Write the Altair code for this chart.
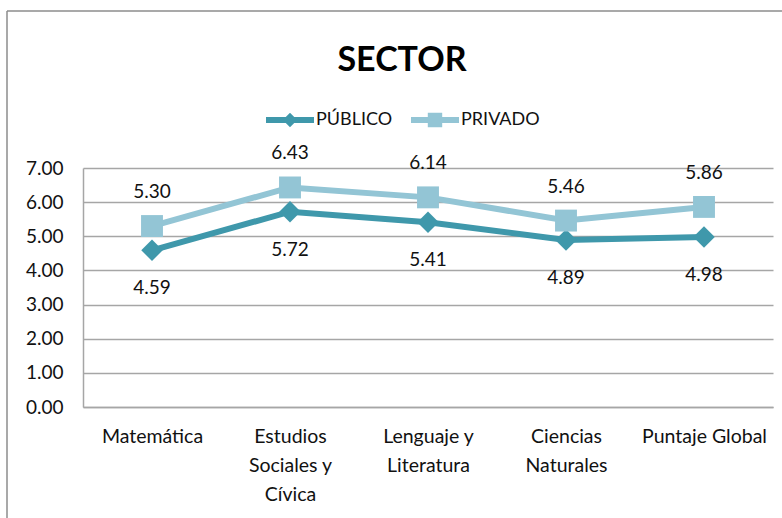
import json
import altair as alt
import pandas as pd

categories = ["Matemática", "Estudios Sociales y Cívica", "Lenguaje y Literatura",
              "Ciencias Naturales", "Puntaje Global"]
category_lines = [["Matemática"], ["Estudios", "Sociales y", "Cívica"],
                  ["Lenguaje y", "Literatura"], ["Ciencias", "Naturales"], ["Puntaje Global"]]
publico = [4.59, 5.72, 5.41, 4.89, 4.98]
privado = [5.30, 6.43, 6.14, 5.46, 5.86]
series_names = ["PÚBLICO", "PRIVADO"]
y_ticks = [0, 1, 2, 3, 4, 5, 6, 7]

rows = []
for c, a, b in zip(categories, publico, privado):
    rows.append({"categoria": c, "serie": "PÚBLICO", "valor": a})
    rows.append({"categoria": c, "serie": "PRIVADO", "valor": b})
df = pd.DataFrame(rows)

DARK = "#3F98AB"
LIGHT = "#93C5D5"
FONT = "Lato"
TXT = "#111111"
GRID = "#A6A6A6"

label_expr = ""
for c, lines in zip(categories, category_lines):
    label_expr += f"datum.value == {json.dumps(c)} ? {json.dumps(lines)} : "
label_expr += "datum.value"

x_enc = alt.X("categoria:N", sort=categories,
              scale=alt.Scale(type="point", padding=0.5),
              axis=alt.Axis(title=None, labelAngle=0, labelFontSize=19.5, labelFont=FONT,
                            labelColor=TXT, labelLineHeight=29, labelPadding=20,
                            labelBaseline="top", ticks=False, grid=False,
                            domainColor=GRID, domainWidth=1.5, labelExpr=label_expr))
y_enc = alt.Y("valor:Q", scale=alt.Scale(domain=[0, 7], nice=False),
              axis=alt.Axis(title=None, values=y_ticks, format=".2f", labelFontSize=19,
                            labelFont=FONT, labelColor=TXT, labelPadding=20, ticks=False,
                            grid=True, gridColor=GRID, gridWidth=1.5,
                            domainColor=GRID, domainWidth=1.5))
color_scale = alt.Scale(domain=series_names, range=[DARK, LIGHT])

base = alt.Chart(df)

def series_layers(name, shape, size, dy):
    sub = base.transform_filter(alt.datum.serie == name)
    line = sub.mark_line(strokeWidth=6).encode(
        x=x_enc, y=y_enc,
        color=alt.Color("serie:N", scale=color_scale, legend=None))
    pts = sub.mark_point(shape=shape, filled=True, opacity=1, size=size).encode(
        x=x_enc, y=y_enc,
        color=alt.Color("serie:N", scale=color_scale, legend=None))
    txt = sub.mark_text(fontSize=19, font=FONT, color=TXT, dy=dy).encode(
        x=x_enc, y=y_enc, text=alt.Text("valor:Q", format=".2f"))
    return [line, pts, txt]

path_pub = "M-1,-0.12L1,-0.12L1,0.12L-1,0.12Z M0,-0.3L0.3,0L0,0.3L-0.3,0Z"
path_pri = "M-1,-0.12L1,-0.12L1,0.12L-1,0.12Z M-0.3,-0.3L0.3,-0.3L0.3,0.3L-0.3,0.3Z"

legend_props = dict(title=None, orient="none", legendX=183, legendY=-72,
                    direction="horizontal", symbolSize=2304, symbolStrokeWidth=0,
                    labelFontSize=18, labelFont=FONT, labelColor=TXT, labelOffset=2,
                    columnPadding=18, symbolOpacity=1)

ghost = base.transform_filter("false").mark_point(filled=True, opacity=1).encode(
    x=x_enc, y=y_enc,
    color=alt.Color("serie:N", scale=color_scale, legend=alt.Legend(**legend_props)),
    shape=alt.Shape("serie:N", scale=alt.Scale(domain=series_names, range=[path_pub, path_pri]),
                    legend=alt.Legend(**legend_props)))

frame_data = alt.Data(values=[{"k": 1}])
frame_v = alt.Chart(frame_data).mark_rule(color="#8c8c8c", strokeWidth=1.5).encode(
    x=alt.value(-76), y=alt.value(-157), y2=alt.value(360))
frame_h = alt.Chart(frame_data).mark_rule(color="#8c8c8c", strokeWidth=1.5).encode(
    x=alt.value(-76), x2=alt.value(720), y=alt.value(-157))

layers = (series_layers("PÚBLICO", "diamond", 460, 38)
          + series_layers("PRIVADO", "square", 480, -34))

chart = alt.layer(frame_v, frame_h, ghost, *layers).properties(
    width=690, height=239,
    autosize=alt.AutoSizeParams(type="none"),
    padding={"left": 83, "top": 168, "right": 9, "bottom": 111},
    title=alt.TitleParams("SECTOR", fontSize=34, font=FONT, fontWeight="bold", color="#000",
                          anchor="middle", offset=0, baseline="alphabetic",
                          dx=-26, dy=95),
    background="white",
).configure_view(stroke=None)

chart.save("out.html", embed_options={"renderer": "svg", "actions": False})
